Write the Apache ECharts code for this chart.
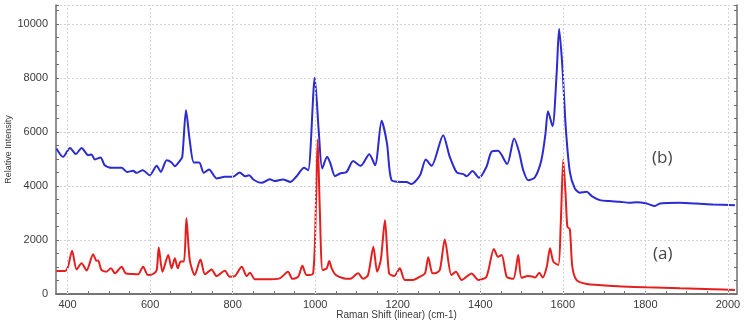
<!DOCTYPE html>
<html>
<head>
<meta charset="utf-8">
<script src="https://cdn.jsdelivr.net/npm/echarts@6/dist/echarts.min.js"></script>
<style>
  html, body { margin: 0; padding: 0; background: #fff; }
  #chart { width: 750px; height: 324px; }
</style>
</head>
<body>
<div id="chart"></div>
<script>
// spectrum (b), blue
var shiftB = [373, 389, 406, 420, 434, 450, 458, 466, 480, 490, 507, 531, 544, 559, 567, 582, 599, 616, 626, 640,
  652, 660, 672, 678, 687, 696, 706, 719, 730, 743, 761, 781, 801, 817, 830, 840, 850, 870, 890, 902,
  922, 940, 955, 973, 983, 999, 1009, 1017, 1029, 1037, 1048, 1060, 1076, 1092, 1110, 1131, 1145, 1161, 1174, 1185,
  1209, 1221, 1233, 1254, 1268, 1282, 1310, 1326, 1343, 1359, 1367, 1381, 1397, 1415, 1427, 1443, 1465, 1482, 1494, 1504,
  1516, 1532, 1548, 1558, 1564, 1575, 1585, 1591, 1599, 1607, 1617, 1629, 1641, 1658, 1670, 1690, 1714, 1738, 1762, 1779,
  1803, 1823, 1835, 1883, 1924, 1964, 2017];
var intensityB = [5390, 5080, 5410, 5180, 5410, 5140, 5165, 4980, 5055, 4770, 4670, 4670, 4520, 4560, 4485, 4585, 4400, 4745, 4520, 4955,
  4870, 4730, 4930, 5080, 6800, 5690, 4870, 4870, 4485, 4610, 4280, 4340, 4340, 4500, 4360, 4400, 4240, 4115, 4250, 4180,
  4240, 4150, 4360, 4670, 4585, 8010, 5940, 4650, 5080, 4830, 4360, 4460, 4520, 4920, 4745, 5175, 4770, 6410, 5570, 4215,
  4150, 4150, 4070, 4400, 4980, 4745, 5880, 5080, 4500, 4440, 4360, 4550, 4300, 4710, 5260, 5300, 4810, 5760, 5260, 4585,
  4215, 4315, 4955, 5940, 6770, 6210, 8160, 9820, 8400, 6190, 4520, 3910, 3750, 3785, 3625, 3475, 3440, 3415, 3380, 3400,
  3350, 3255, 3350, 3375, 3350, 3315, 3290];

// spectrum (a), red
var shiftA = [373, 393, 401, 411, 422, 434, 446, 462, 470, 474, 482, 494, 505, 515, 531, 541, 559, 571, 583, 595,
  607, 616, 621, 630, 644, 652, 660, 667, 674, 682, 688, 696, 708, 722, 733, 749, 761, 781, 793, 805,
  822, 834, 842, 854, 882, 914, 934, 945, 959, 969, 979, 995, 1002, 1006, 1011, 1018, 1028, 1034, 1040, 1050,
  1068, 1084, 1104, 1116, 1128, 1141, 1150, 1159, 1169, 1179, 1191, 1205, 1217, 1237, 1254, 1266, 1274, 1284, 1290, 1302,
  1314, 1330, 1341, 1355, 1379, 1395, 1415, 1433, 1443, 1452, 1464, 1480, 1492, 1500, 1516, 1528, 1533, 1543, 1551, 1561,
  1569, 1577, 1589, 1595, 1601, 1607, 1611, 1617, 1623, 1633, 1658, 1722, 1803, 1884, 1964, 2017];
var intensityA = [850, 850, 1010, 1600, 910, 1135, 870, 1470, 1230, 1240, 890, 825, 950, 765, 1010, 765, 740, 730, 1010, 700,
  740, 890, 1725, 825, 1440, 950, 1320, 950, 1200, 1200, 2800, 1260, 700, 1280, 730, 910, 665, 860, 640, 660,
  1010, 660, 790, 545, 545, 580, 825, 560, 640, 1045, 700, 765, 3475, 5720, 3230, 890, 950, 1220, 950, 700,
  580, 560, 765, 560, 700, 1750, 825, 1260, 2730, 765, 665, 950, 520, 520, 640, 760, 1360, 765, 765, 890,
  2020, 700, 825, 520, 760, 520, 640, 1670, 1380, 1440, 640, 560, 1440, 600, 665, 640, 610, 790, 610, 1000,
  1690, 1200, 1075, 2610, 4980, 3600, 2490, 2400, 1010, 520, 370, 300, 250, 210, 175, 150];

var xTicks = [400, 600, 800, 1000, 1200, 1400, 1600, 1800, 2000];
var xMinorTicks = [];
for (var t = 400; t <= 2000; t += 50) xMinorTicks.push(t);

function pairs(xs, ys) {
  return xs.map(function (x, i) { return [x, ys[i]]; });
}
function plain(v) { return String(v); }

var frameColor = '#6e6e6e';
var gridLine = { color: '#d4d4d4', type: [2, 2], width: 1 };
var labelStyle = { color: '#3a3a3a', fontSize: 11, fontFamily: 'Liberation Sans' };

var option = {
  animation: false,
  backgroundColor: '#fff',
  grid: { left: 56, right: 13, top: 5, bottom: 30, containLabel: false, outerBoundsMode: 'none' },
  xAxis: [{
    type: 'value',
    min: 372,
    max: 2022,
    name: 'Raman Shift (linear) (cm-1)',
    nameLocation: 'middle',
    nameGap: 16,
    nameMoveOverlap: false,
    nameTextStyle: { color: '#3a3a3a', fontSize: 10, fontFamily: 'Liberation Sans' },
    axisLine: { show: true, lineStyle: { color: frameColor, width: 1.5 } },
    axisTick: { show: true, inside: true, length: 3, customValues: xMinorTicks, lineStyle: { color: frameColor } },
    axisLabel: Object.assign({ margin: 5, customValues: xTicks, formatter: plain }, labelStyle),
    splitLine: { show: false }
  }, {
    type: 'value',
    position: 'top',
    min: 372,
    max: 2022,
    axisLine: { show: true, lineStyle: { color: frameColor, width: 1.5 } },
    axisTick: { show: false },
    axisLabel: { show: false },
    splitLine: { show: false }
  }],
  yAxis: [{
    type: 'value',
    min: 0,
    max: 10700,
    interval: 2000,
    name: 'Relative Intensity',
    nameLocation: 'middle',
    nameGap: 43,
    nameRotate: 90,
    nameMoveOverlap: false,
    nameTextStyle: { color: '#3a3a3a', fontSize: 9, fontFamily: 'Liberation Sans' },
    axisLine: { show: true, lineStyle: { color: frameColor, width: 1.5 } },
    axisTick: { show: true, inside: true, length: 3, lineStyle: { color: frameColor } },
    minorTick: { show: true, splitNumber: 4, length: 3, lineStyle: { color: frameColor } },
    axisLabel: Object.assign({ margin: 8, showMaxLabel: false, formatter: plain }, labelStyle),
    splitLine: { show: true, lineStyle: gridLine }
  }, {
    type: 'value',
    position: 'right',
    min: 0,
    max: 10700,
    interval: 2000,
    axisLine: { show: true, lineStyle: { color: frameColor, width: 1.5 } },
    axisTick: { show: true, inside: true, length: 3, lineStyle: { color: frameColor } },
    minorTick: { show: true, splitNumber: 4, length: 3, lineStyle: { color: frameColor } },
    axisLabel: { show: false },
    splitLine: { show: false }
  }],
  series: [{
    name: '(b)',
    type: 'line',
    data: pairs(shiftB, intensityB),
    showSymbol: false,
    smooth: 0.25,
    lineStyle: { color: '#2b2bd0', width: 2 },
    markLine: {
      silent: true,
      symbol: 'none',
      label: { show: false },
      lineStyle: gridLine,
      data: xTicks.map(function (v) { return { xAxis: v }; })
    },
    z: 3
  }, {
    name: '(a)',
    type: 'line',
    data: pairs(shiftA, intensityA),
    showSymbol: false,
    smooth: 0.25,
    lineStyle: { color: '#e3201f', width: 2 },
    z: 4
  }],
  graphic: [
    { type: 'text', left: 652, top: 150, style: { text: '(b)', fill: '#444', font: '17px "Open Sans"' } },
    { type: 'text', left: 653, top: 246, style: { text: '(a)', fill: '#444', font: '17px "Open Sans"' } }
  ]
};

echarts.init(document.getElementById('chart')).setOption(option);
</script>
</body>
</html>
